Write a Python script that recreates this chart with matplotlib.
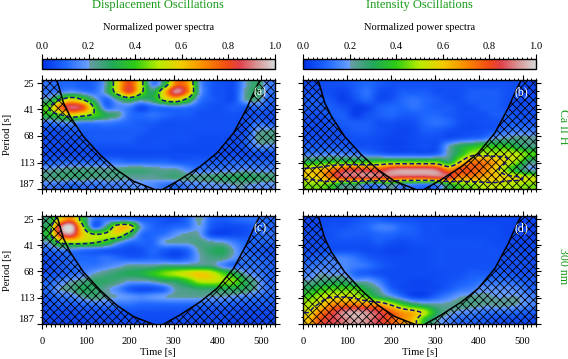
#!/usr/bin/env python3
import matplotlib
matplotlib.use("Agg")
import matplotlib.pyplot as plt
from matplotlib.cm import ScalarMappable
from matplotlib.colors import LinearSegmentedColormap, Normalize
import numpy as np

plt.rcParams["font.family"] = ["Liberation Serif", "DejaVu Serif"]
plt.rcParams["hatch.linewidth"] = 0.6

W, H = 568, 359
GREEN = "#159a15"

# ------------------------------------------------------------------------------
#   Data: power in percent, rows top to bottom (short to
#   long period), columns left to right (time 0 to 530 s)
# ------------------------------------------------------------------------------

power_a = [
    [12, 10, 10, 8, 10, 22, 58, 80, 52, 14, 30, 72, 68, 20, 8, 6, 6, 20, 28, 14],
    [12, 14, 18, 14, 12, 24, 55, 80, 50, 28, 60, 92, 72, 22, 8, 6, 6, 22, 30, 12],
    [22, 42, 55, 44, 24, 10, 24, 34, 26, 30, 50, 58, 40, 14, 8, 6, 6, 22, 24, 10],
    [42, 72, 88, 80, 42, 12, 16, 14, 5, 10, 12, 14, 12, 8, 6, 6, 8, 8, 12, 8],
    [36, 42, 56, 50, 42, 30, 24, 12, 10, 12, 10, 8, 8, 6, 6, 6, 6, 6, 6, 6],
    [12, 16, 18, 14, 14, 14, 12, 10, 8, 8, 6, 6, 6, 6, 6, 6, 6, 6, 12, 8],
    [6, 6, 8, 8, 8, 8, 8, 8, 8, 6, 6, 6, 6, 6, 6, 6, 6, 6, 20, 22],
    [5, 5, 6, 6, 8, 8, 8, 8, 6, 6, 6, 6, 6, 5, 5, 5, 5, 8, 22, 24],
    [5, 5, 5, 6, 6, 6, 6, 6, 6, 6, 6, 5, 5, 5, 5, 5, 5, 8, 18, 18],
    [5, 5, 5, 5, 5, 5, 5, 5, 5, 5, 5, 5, 5, 5, 5, 5, 5, 5, 6, 6],
    [8, 10, 10, 10, 10, 12, 12, 10, 10, 10, 10, 8, 8, 8, 8, 8, 10, 10, 10, 10],
    [20, 22, 24, 24, 24, 22, 24, 26, 26, 24, 22, 22, 16, 12, 14, 14, 16, 18, 16, 16],
    [24, 26, 26, 26, 24, 24, 24, 22, 22, 22, 24, 26, 24, 24, 26, 28, 30, 30, 28, 26],
    [14, 12, 10, 12, 12, 14, 14, 16, 18, 16, 12, 10, 14, 16, 18, 18, 20, 20, 18, 18],
]
power_b = [
    [5, 5, 6, 6, 8, 10, 8, 6, 6, 6, 6, 6, 6, 6, 6, 6, 6, 6, 5, 4],
    [6, 6, 5, 4, 8, 12, 6, 5, 8, 8, 8, 6, 6, 6, 8, 8, 8, 6, 5, 4],
    [8, 8, 6, 3, 6, 10, 5, 6, 10, 12, 10, 8, 6, 6, 8, 8, 8, 6, 5, 5],
    [8, 8, 8, 6, 3, 4, 8, 10, 10, 12, 10, 8, 8, 6, 6, 8, 8, 6, 5, 6],
    [6, 6, 8, 8, 3, 6, 8, 10, 8, 8, 10, 10, 8, 6, 6, 6, 8, 8, 6, 6],
    [5, 5, 6, 8, 8, 8, 6, 6, 5, 6, 10, 12, 10, 6, 5, 6, 6, 8, 8, 8],
    [5, 5, 6, 6, 8, 8, 6, 5, 4, 5, 8, 8, 6, 5, 5, 6, 8, 12, 14, 14],
    [6, 6, 6, 6, 6, 6, 5, 4, 4, 5, 6, 6, 6, 8, 10, 12, 20, 22, 24, 22],
    [8, 8, 8, 8, 6, 6, 5, 4, 4, 5, 6, 6, 20, 30, 35, 40, 38, 38, 30, 25],
    [14, 15, 16, 15, 14, 12, 10, 8, 8, 8, 8, 10, 22, 35, 50, 50, 50, 52, 50, 42],
    [32, 35, 38, 38, 38, 38, 40, 42, 42, 42, 42, 42, 30, 55, 72, 72, 65, 55, 45, 25],
    [58, 62, 72, 80, 82, 80, 78, 88, 92, 92, 92, 88, 70, 80, 78, 72, 60, 45, 30, 20],
    [58, 62, 75, 85, 85, 88, 85, 85, 82, 82, 82, 85, 85, 70, 70, 65, 62, 58, 56, 52],
    [45, 45, 38, 22, 25, 12, 14, 22, 14, 12, 10, 12, 30, 42, 45, 50, 52, 50, 48, 45],
]
power_c = [
    [25, 55, 70, 35, 12, 12, 10, 10, 8, 8, 6, 5, 10, 22, 10, 8, 10, 12, 12, 10],
    [30, 85, 100, 50, 10, 25, 58, 58, 20, 10, 8, 10, 12, 20, 8, 5, 5, 6, 10, 10],
    [35, 80, 90, 60, 48, 50, 55, 35, 12, 10, 12, 18, 22, 20, 6, 4, 5, 6, 10, 12],
    [20, 45, 50, 48, 45, 38, 22, 12, 10, 10, 20, 22, 22, 25, 22, 20, 14, 10, 10, 10],
    [10, 14, 15, 12, 10, 8, 6, 5, 6, 10, 8, 6, 10, 22, 28, 30, 20, 10, 8, 6],
    [6, 8, 10, 10, 10, 12, 10, 8, 8, 10, 8, 6, 10, 20, 25, 25, 18, 12, 10, 8],
    [5, 8, 10, 12, 12, 15, 18, 22, 22, 22, 25, 25, 25, 25, 25, 16, 10, 12, 12, 10],
    [6, 8, 10, 14, 20, 24, 28, 30, 32, 38, 45, 50, 55, 60, 55, 42, 32, 20, 14, 10],
    [10, 14, 20, 24, 28, 28, 25, 20, 20, 22, 28, 30, 38, 50, 52, 48, 45, 30, 20, 10],
    [10, 20, 24, 30, 28, 22, 16, 8, 5, 6, 10, 22, 25, 28, 28, 30, 30, 28, 20, 12],
    [8, 12, 15, 22, 26, 22, 20, 18, 16, 18, 20, 22, 22, 22, 20, 20, 18, 15, 12, 10],
    [6, 8, 8, 10, 12, 14, 12, 12, 10, 10, 10, 10, 10, 10, 10, 10, 8, 8, 8, 8],
    [5, 5, 5, 6, 6, 6, 6, 6, 6, 6, 6, 6, 6, 6, 6, 6, 6, 5, 5, 5],
    [4, 4, 4, 4, 5, 5, 5, 5, 5, 5, 5, 5, 5, 5, 5, 5, 4, 4, 4, 4],
]
power_d = [
    [4, 4, 5, 5, 6, 8, 8, 6, 6, 6, 5, 5, 5, 5, 4, 4, 4, 4, 4, 4],
    [4, 5, 6, 6, 8, 10, 14, 14, 10, 8, 6, 6, 5, 5, 5, 5, 5, 4, 4, 4],
    [5, 5, 6, 8, 8, 8, 10, 10, 8, 8, 6, 6, 5, 5, 5, 5, 5, 4, 4, 4],
    [5, 5, 6, 6, 6, 6, 8, 6, 5, 6, 6, 6, 6, 6, 6, 6, 5, 5, 4, 4],
    [5, 6, 6, 6, 6, 5, 5, 4, 4, 5, 5, 6, 6, 6, 6, 6, 6, 5, 5, 5],
    [8, 10, 14, 15, 12, 8, 6, 5, 5, 5, 5, 6, 6, 6, 6, 6, 6, 6, 6, 5],
    [12, 14, 15, 16, 14, 12, 8, 6, 5, 5, 5, 6, 6, 6, 6, 6, 6, 6, 6, 6],
    [15, 20, 18, 18, 10, 8, 6, 5, 5, 5, 5, 5, 6, 6, 8, 8, 8, 8, 6, 6],
    [22, 25, 28, 28, 20, 20, 14, 6, 5, 4, 4, 5, 6, 8, 10, 12, 12, 12, 10, 8],
    [32, 38, 42, 42, 42, 30, 22, 10, 5, 4, 4, 5, 8, 12, 14, 18, 18, 18, 16, 10],
    [42, 50, 55, 55, 52, 42, 30, 22, 12, 5, 5, 10, 15, 20, 22, 22, 20, 20, 20, 15],
    [50, 58, 70, 72, 72, 70, 68, 55, 40, 30, 25, 22, 22, 25, 24, 22, 22, 22, 20, 15],
    [55, 72, 82, 92, 95, 92, 85, 78, 68, 62, 50, 30, 22, 18, 15, 12, 12, 12, 10, 8],
    [62, 80, 85, 90, 95, 92, 85, 78, 70, 60, 35, 22, 15, 10, 10, 8, 6, 5, 5, 5],
]

# Cone of influence
coi_left_t = [32, 36, 49, 64, 94, 132, 170, 208, 254]
coi_left_p = [23.4, 24.8, 36.2, 46.8, 68.5, 97, 129.5, 161, 187]
coi_right_t = [277, 315, 361, 399, 437, 467, 486, 497]
coi_right_p = [187, 156, 121.5, 94, 64, 40, 28, 23.4]

period_ticks = [25, 41, 68, 113, 187]
period_labels = ["25", "41", "68", "113", "187"]
time_ticks = [0, 100, 200, 300, 400, 500]
cbar_ticks = [0.0, 0.2, 0.4, 0.6, 0.8, 1.0]
panel_labels = ["(a)", "(b)", "(c)", "(d)"]
contour_levels = [0.45, 0.55, 0.45, 0.55]
contour_rows = [5, 14, 4, 14]  # rows of each table that carry a dashed contour

T_MAX = 530
P_TOP, P_BOTTOM = 23.4, 187

# Colour scale with the jump at 0.2
cmap = LinearSegmentedColormap.from_list(
    "power",
    [
        (0.0, "#0030e8"),
        (0.1, "#1f68ff"),
        (0.2, "#6aa0ff"),
        (0.2, "#6a9aa8"),
        (0.3, "#22a85a"),
        (0.4, "#2dcc14"),
        (0.5, "#b8ec00"),
        (0.6, "#f2cc00"),
        (0.7, "#fa8a00"),
        (0.8, "#f04a14"),
        (0.85, "#e2404a"),
        (0.92, "#d89090"),
        (1.0, "#d8d8d8"),
    ],
    N=512,
)
norm = Normalize(0, 1)


def cubic_axis0(m, k):
    """Catmull-Rom resampling along the first axis, k values per table row."""
    n = m.shape[0]
    pos = np.clip((np.arange(n * k) + 0.5) / k - 0.5, 0, n - 1)
    i = np.minimum(pos.astype(int), n - 2)
    t = (pos - i)[:, None]
    p0 = m[np.maximum(i - 1, 0)]
    p1 = m[i]
    p2 = m[i + 1]
    p3 = m[np.minimum(i + 2, n - 1)]
    return 0.5 * (2 * p1 + (p2 - p0) * t + (2 * p0 - 5 * p1 + 4 * p2 - p3) * t**2
                  + (3 * p1 - p0 - 3 * p2 + p3) * t**3)


def refine(matrix, k=6):
    """Make the coarse table smooth enough for drawing and contouring."""
    m = np.asarray(matrix, dtype=float) / 100
    m = cubic_axis0(cubic_axis0(m, k).T, k).T
    return np.clip(m, 0, 1)


def px_axes(fig, x0, y0, x1, y1):
    return fig.add_axes([x0 / W, 1 - y1 / H, (x1 - x0) / W, (y1 - y0) / H])


def style_ticks(ax):
    ax.tick_params(which="major", direction="out", length=3.5, width=0.8)
    ax.tick_params(which="minor", direction="out", length=1.8, width=0.7)
    for spine in ax.spines.values():
        spine.set_linewidth(1.0)


fig = plt.figure(figsize=(W / 100, H / 100), dpi=100)

col_x = [(42, 274.5), (303.3, 535.8)]
row_y = [(80, 189), (215.7, 324.3)]
panels = [power_a, power_b, power_c, power_d]

log_top, log_bottom = np.log10(P_TOP), np.log10(P_BOTTOM)
log_step = (np.log10(187) - np.log10(25)) / 15
minor_y = log_bottom - log_step * np.arange(0, 17)
minor_y = minor_y[minor_y >= log_top]

for i, matrix in enumerate(panels):
    col, row = i % 2, i // 2
    ax = px_axes(fig, col_x[col][0], row_y[row][0], col_x[col][1], row_y[row][1])
    field = refine(matrix)
    ax.imshow(
        field,
        extent=(0, T_MAX, log_bottom, log_top),
        origin="upper",
        aspect="auto",
        cmap=cmap,
        norm=norm,
        interpolation="bilinear",
    )
    nr, nc = field.shape
    xx = (np.arange(nc) + 0.5) / nc * T_MAX
    yy = log_top + (np.arange(nr) + 0.5) / nr * (log_bottom - log_top)
    keep = contour_rows[i] * nr // 14
    ax.contour(
        xx,
        yy[:keep],
        field[:keep],
        levels=[contour_levels[i]],
        colors="#10107a",
        linewidths=1.1,
        linestyles=[(0, (3, 1.6))],
    )

    # Hatched area outside the cone of influence
    left_y = np.log10(coi_left_p)
    right_y = np.log10(coi_right_p)
    ax.fill_betweenx(left_y, 0, coi_left_t, facecolor="none", edgecolor="k",
                     hatch="xxxx", linewidth=0)
    ax.fill_betweenx(right_y, coi_right_t, T_MAX, facecolor="none", edgecolor="k",
                     hatch="xxxx", linewidth=0)
    ax.plot(coi_left_t, left_y, color="k", lw=1.1)
    ax.plot(coi_right_t, right_y, color="k", lw=1.1)

    ax.set_xlim(0, T_MAX)
    ax.set_ylim(log_bottom, log_top)
    ax.set_xticks(time_ticks)
    ax.set_xticks(np.arange(0, T_MAX + 1, 10), minor=True)
    ax.set_yticks(np.log10(period_ticks))
    ax.set_yticks(minor_y, minor=True)
    style_ticks(ax)
    ax.tick_params(which="both", top=True, right=True,
                   labelleft=col == 0, labelbottom=row == 1, labelsize=7.6)
    ax.tick_params(axis="x", which="major", pad=5.5)
    ax.tick_params(axis="y", which="major", pad=2)
    if col == 0:
        ax.set_yticklabels(period_labels)
        ax.get_yticklabels()[-1].set_verticalalignment("bottom")
    ax.text(0.938, 0.885, panel_labels[i], transform=ax.transAxes, color="w",
            fontsize=8.6, ha="center", va="center")

    if col == 0:
        ax.set_ylabel("Period [s]", fontsize=7.6, labelpad=5)
    if row == 1:
        ax.set_xlabel("Time [s]", fontsize=7.6, labelpad=1.5)

# Colour bars and headers
headers = ["Displacement Oscillations", "Intensity Oscillations"]
for col in range(2):
    cax = px_axes(fig, col_x[col][0], 58.7, col_x[col][1], 69.3)
    cbar = fig.colorbar(ScalarMappable(norm=norm, cmap=cmap), cax=cax,
                        orientation="horizontal", ticklocation="top")
    cbar.set_ticks(cbar_ticks)
    cbar.ax.set_xticklabels([f"{v:.1f}" for v in cbar_ticks])
    cbar.ax.set_xticks(np.arange(0, 1.001, 0.02), minor=True)
    style_ticks(cbar.ax)
    cbar.ax.tick_params(labelsize=7.6, pad=2)
    cbar.outline.set_linewidth(1.0)
    xc = sum(col_x[col]) / 2
    fig.text(xc / W, 1 - 27 / H, "Normalized power spectra", fontsize=7.6,
             ha="center", va="center")
    fig.text(xc / W, 1 - 5 / H, headers[col], fontsize=9, color=GREEN,
             ha="center", va="center")

fig.text(563 / W, 1 - 127 / H, "Ca II H", fontsize=8.6, color=GREEN, rotation=270,
         ha="center", va="center")
fig.text(563 / W, 1 - 266 / H, "300 nm", fontsize=8.6, color=GREEN, rotation=270,
         ha="center", va="center")

fig.savefig("out.png", dpi=100)
